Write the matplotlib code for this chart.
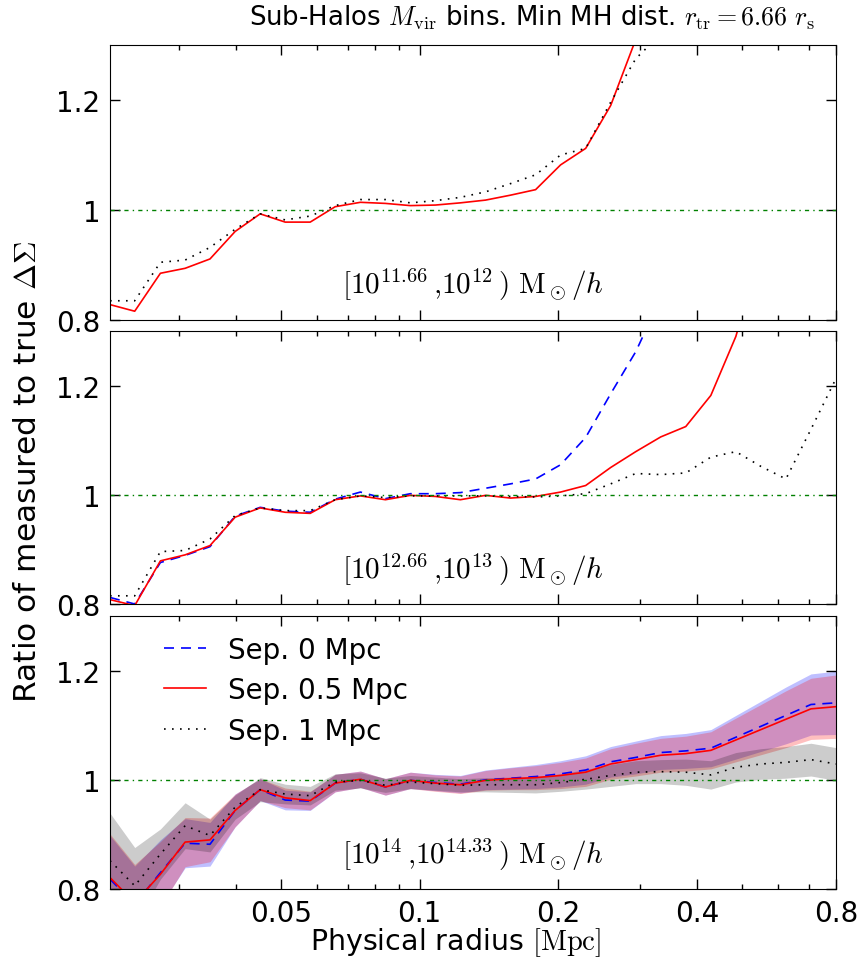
import matplotlib
matplotlib.use("Agg")
import matplotlib.pyplot as plt
from matplotlib.ticker import NullFormatter

plt.rcParams['mathtext.fontset'] = 'cm'
plt.rcParams['font.family'] = ['DejaVu Sans']

# radial bins [Mpc]
radius = [0.0213, 0.0241, 0.0274, 0.0310, 0.0351, 0.0398, 0.0451, 0.0511, 0.0579, 0.0656,
          0.0744, 0.0843, 0.0955, 0.1082, 0.1226, 0.1390, 0.1575, 0.1785, 0.2022, 0.2292,
          0.2597, 0.2943, 0.3335, 0.3779, 0.4283, 0.4853, 0.5500, 0.6232, 0.7062, 0.8003]

# panel 1: [10^11.66, 10^12)
p1_sep05 = [0.828, 0.816, 0.885, 0.894, 0.911, 0.961, 0.993, 0.978, 0.978, 1.006,
            1.014, 1.012, 1.008, 1.009, 1.013, 1.018, 1.027, 1.037, 1.082, 1.112,
            1.190, 1.31, 1.45, 1.6, 1.75, 1.9, 2.0, 2.1, 2.2, 2.3]
p1_sep1 = [0.835, 0.835, 0.905, 0.909, 0.932, 0.965, 0.993, 0.982, 0.989, 1.008,
           1.019, 1.019, 1.013, 1.017, 1.023, 1.033, 1.048, 1.064, 1.100, 1.112,
           1.196, 1.275, 1.32, 1.45, 1.6, 1.75, 1.9, 2.0, 2.1, 2.2]

# panel 2: [10^12.66, 10^13)
p2_sep0 = [0.812, 0.800, 0.876, 0.889, 0.905, 0.961, 0.977, 0.970, 0.968, 0.992,
           1.005, 0.993, 1.002, 1.002, 1.004, 1.012, 1.020, 1.029, 1.055, 1.105,
           1.185, 1.262, 1.36, 1.5, 1.65, 1.8, 1.95, 2.1, 2.2, 2.3]
p2_sep05 = [0.808, 0.797, 0.879, 0.890, 0.907, 0.959, 0.976, 0.968, 0.966, 0.991,
            0.998, 0.991, 0.999, 0.997, 0.991, 0.999, 0.994, 0.997, 1.005, 1.017,
            1.050, 1.079, 1.106, 1.125, 1.182, 1.29, 1.45, 1.6, 1.75, 1.9]
p2_sep1 = [0.815, 0.815, 0.896, 0.898, 0.919, 0.962, 0.976, 0.971, 0.971, 0.991,
           0.998, 0.995, 0.998, 0.998, 0.998, 0.998, 0.997, 0.996, 0.998, 1.002,
           1.020, 1.039, 1.037, 1.040, 1.069, 1.079, 1.052, 1.029, 1.120, 1.213]

# panel 3: [10^14, 10^14.33) with errors
p3_sep0 = [0.818, 0.772, 0.830, 0.884, 0.882, 0.944, 0.982, 0.963, 0.961, 0.994,
           1.001, 0.987, 0.999, 0.995, 0.992, 1.000, 1.003, 1.006, 1.011, 1.018,
           1.033, 1.041, 1.050, 1.053, 1.058, 1.078, 1.098, 1.118, 1.138, 1.141]
p3_sep05 = [0.821, 0.775, 0.827, 0.886, 0.890, 0.944, 0.982, 0.967, 0.962, 0.994,
            1.001, 0.987, 0.999, 0.994, 0.991, 0.999, 1.002, 1.004, 1.008, 1.014,
            1.029, 1.037, 1.045, 1.048, 1.054, 1.073, 1.092, 1.111, 1.130, 1.134]
p3_sep1 = [0.852, 0.806, 0.864, 0.916, 0.898, 0.950, 0.982, 0.974, 0.971, 0.996,
           0.999, 0.990, 0.996, 0.993, 0.990, 0.991, 0.991, 0.991, 0.995, 1.001,
           1.008, 1.014, 1.015, 1.014, 1.009, 1.023, 1.029, 1.032, 1.037, 1.029]
p3_err0 = [0.08, 0.07, 0.06, 0.045, 0.04, 0.03, 0.02, 0.018, 0.017, 0.016,
           0.015, 0.015, 0.015, 0.015, 0.016, 0.018, 0.02, 0.022, 0.024, 0.026,
           0.028, 0.03, 0.031, 0.032, 0.034, 0.04, 0.046, 0.052, 0.056, 0.058]
p3_err05 = p3_err0
p3_err1 = [0.087, 0.07, 0.046, 0.042, 0.03, 0.022, 0.022, 0.018, 0.017, 0.015,
           0.014, 0.013, 0.012, 0.012, 0.012, 0.013, 0.014, 0.015, 0.016, 0.018,
           0.02, 0.021, 0.022, 0.024, 0.026, 0.027, 0.028, 0.029, 0.03, 0.03]

labels = ['Sep. 0 Mpc', 'Sep. 0.5 Mpc', 'Sep. 1 Mpc']
bin_text = [r'$[10^{11.66}\,{,}10^{12}\,)\ \mathrm{M}_\odot/h$',
            r'$[10^{12.66}\,{,}10^{13}\,)\ \mathrm{M}_\odot/h$',
            r'$[10^{14}\,{,}10^{14.33}\,)\ \mathrm{M}_\odot/h$']

fig = plt.figure(figsize=(8.64, 9.62), dpi=100)
left, width = 0.1273, 0.8403
ax1 = fig.add_axes([left, 0.6663, width, 0.2859])
ax2 = fig.add_axes([left, 0.3711, width, 0.2838])
ax3 = fig.add_axes([left, 0.0748, width, 0.2838])
axes = [ax1, ax2, ax3]

lw = 1.2
sty0 = dict(color='b', ls='--', dashes=(6, 4.2), lw=lw)
sty05 = dict(color='r', ls='-', lw=lw)
sty1 = dict(color='k', ls=':', dashes=(1, 3.8), lw=lw)

ax1.plot(radius, p1_sep05, **sty05)
ax1.plot(radius, p1_sep1, **sty1)

ax2.plot(radius, p2_sep0, **sty0)
ax2.plot(radius, p2_sep05, **sty05)
ax2.plot(radius, p2_sep1, **sty1)

def band(ax, y, e, color, alpha):
    lo = [a - b for a, b in zip(y, e)]
    hi = [a + b for a, b in zip(y, e)]
    ax.fill_between(radius, lo, hi, color=color, alpha=alpha, lw=0)

band(ax3, p3_sep0, p3_err0, 'b', 0.25)
band(ax3, p3_sep05, p3_err05, 'r', 0.25)
band(ax3, p3_sep1, p3_err1, 'k', 0.2)
ax3.plot(radius, p3_sep0, label=labels[0], **sty0)
ax3.plot(radius, p3_sep05, label=labels[1], **sty05)
ax3.plot(radius, p3_sep1, label=labels[2], **sty1)

for i, ax in enumerate(axes):
    ax.axhline(1.0, color='g', ls='-.', dashes=(3, 3, 1, 3), lw=1.0)
    ax.set_xscale('log')
    ax.set_xlim(radius[0], radius[-1])
    ax.set_ylim(0.8, 1.3)
    ax.set_yticks([0.8, 1.0, 1.2])
    ax.set_yticklabels(['0.8', '1', '1.2'])
    ax.set_xticks([0.05, 0.1, 0.2, 0.4, 0.8])
    ax.xaxis.set_minor_formatter(NullFormatter())
    ax.tick_params(which='both', direction='in', top=True, right=True, labelsize=20)
    ax.tick_params(which='major', length=7, width=1, pad=7)
    ax.tick_params(which='minor', length=3.5, width=1)
    if i < 2:
        ax.set_xticklabels([])
    else:
        ax.set_xticklabels(['0.05', '0.1', '0.2', '0.4', '0.8'])
    ax.text(0.5, 0.13, bin_text[i], transform=ax.transAxes, ha='center', va='center',
            fontsize=21)

ax3.legend(loc='upper left', frameon=False, fontsize=20, handlelength=1.5,
           bbox_to_anchor=(0.04, 1.02), labelspacing=0.45)

fig.text(0.527, 0.0125, r'Physical radius $[\mathrm{Mpc}]$', ha='center', va='baseline',
         fontsize=20.5)
fig.text(0.032, 0.509, r'Ratio of measured to true $\Delta\Sigma$', rotation=90,
         ha='center', va='center', fontsize=22.5)
fig.text(0.616, 0.982, r'Sub-Halos $M_{\rm vir}$ bins. Min MH dist. $r_{\rm tr}=6.66\ r_{\rm s}$',
         ha='center', va='center', fontsize=18.7)

fig.savefig('out.png', dpi=100)
